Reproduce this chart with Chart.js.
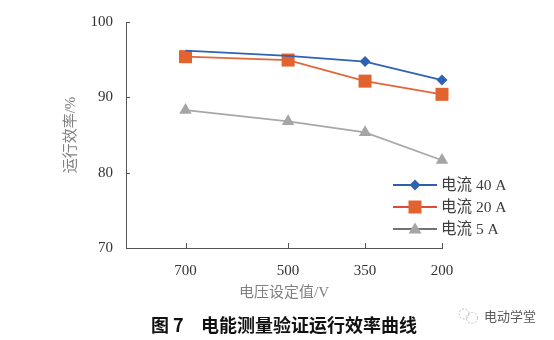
<!DOCTYPE html>
<html><head><meta charset="utf-8">
<script src="https://cdn.jsdelivr.net/npm/chart.js@4.4.1/dist/chart.umd.min.js"></script>
<style>html,body{margin:0;padding:0;background:#fff}#wrap{width:554px;height:340px;position:relative}</style>
</head><body><div id="wrap"><canvas id="c" width="554" height="340"></canvas></div>
<script>
// ---- data ----
const voltages = [700, 500, 350, 200];
const xTickValues = [700, 500, 350, 200];
const yTickValues = [70, 80, 90, 100];
const eff40 = [96.2, 95.5, 94.75, 92.3];
const eff20 = [95.4, 94.95, 92.15, 90.4];
const eff5 = [88.3, 86.8, 85.35, 81.65];
const seriesNames = ['电流 40 A', '电流 20 A', '电流 5 A'];
const xTitle = '电压设定值/V';
const yTitle = '运行效率/%';
const captionFig = '图 7';
const captionText = '电能测量验证运行效率曲线';
const watermark = '电动学堂';

const numFont = '"Liberation Serif", "Noto Sans CJK SC", serif';
const cjkFont = '"Liberation Serif", "Noto Sans CJK SC", sans-serif';

function pts(vals) { return voltages.map((v, i) => ({x: v, y: vals[i]})); }

const styles = [
  {line: '#2f62b2', fill: '#2f62b2', legLine: '#2f5fae', shape: 'diamond'},
  {line: '#e3653a', fill: '#e2632f', legLine: '#e04a3a', shape: 'square'},
  {line: '#a8a8a8', fill: '#a5a5a5', legLine: '#737373', shape: 'triangle'}
];

function drawMarker(ctx, shape, x, y, color) {
  ctx.save();
  ctx.fillStyle = color;
  ctx.beginPath();
  if (shape === 'diamond') {
    const r = 5.5;
    ctx.moveTo(x, y - r); ctx.lineTo(x + r, y); ctx.lineTo(x, y + r); ctx.lineTo(x - r, y);
  } else if (shape === 'square') {
    ctx.rect(x - 6.5, y - 6.5, 13, 13);
  } else {
    ctx.moveTo(x, y - 6.5); ctx.lineTo(x + 6.5, y + 4.5); ctx.lineTo(x - 6.5, y + 4.5);
  }
  ctx.closePath();
  ctx.fill();
  ctx.restore();
}

const extras = {
  id: 'extras',
  afterDraw(chart) {
    const ctx = chart.ctx;
    const xs = chart.scales.x, ys = chart.scales.y;
    const ca = chart.chartArea;
    ctx.save();
    // inward tick marks
    ctx.strokeStyle = '#555';
    ctx.lineWidth = 1;
    yTickValues.forEach(v => {
      const py = Math.round(ys.getPixelForValue(v)) + 0.5;
      ctx.beginPath(); ctx.moveTo(ca.left, py); ctx.lineTo(ca.left + 4, py); ctx.stroke();
    });
    xTickValues.forEach(v => {
      const px = Math.round(xs.getPixelForValue(v)) + 0.5;
      ctx.beginPath(); ctx.moveTo(px, ca.bottom); ctx.lineTo(px, ca.bottom - 5); ctx.stroke();
    });
    // legend
    const lx0 = 393, lx1 = 437, rows = [185, 207, 229];
    ctx.font = '15.5px ' + cjkFont;
    ctx.textBaseline = 'middle';
    ctx.textAlign = 'left';
    seriesNames.forEach((name, i) => {
      const y = rows[i];
      ctx.strokeStyle = styles[i].legLine;
      ctx.lineWidth = 2;
      ctx.beginPath(); ctx.moveTo(lx0, y); ctx.lineTo(lx1, y); ctx.stroke();
      drawMarker(ctx, styles[i].shape, (lx0 + lx1) / 2, y, styles[i].fill);
      ctx.fillStyle = '#3d3d3d';
      ctx.fillText(name, 441, y + 1);
    });
    // caption
    ctx.fillStyle = '#111';
    ctx.font = 'bold 18px "Noto Sans CJK SC", sans-serif';
    ctx.fillText(captionFig, 151, 325);
    ctx.fillText(captionText, 201, 325);
    // watermark
    ctx.strokeStyle = '#bdbdbd';
    ctx.lineWidth = 1;
    ctx.setLineDash([2, 1.5]);
    ctx.beginPath(); ctx.arc(464, 314, 5, 0, Math.PI * 2); ctx.stroke();
    ctx.beginPath(); ctx.arc(472, 318, 5.5, 0, Math.PI * 2); ctx.stroke();
    ctx.setLineDash([]);
    ctx.fillStyle = '#5a5a5a';
    ctx.font = '13px "Noto Sans CJK SC", sans-serif';
    ctx.fillText(watermark, 484, 316);
    ctx.restore();
  }
};

const datasets = [eff40, eff20, eff5].map((vals, i) => ({
  label: seriesNames[i],
  data: pts(vals),
  borderColor: styles[i].line,
  backgroundColor: styles[i].fill,
  borderWidth: 1.8,
  pointStyle: ['rectRot', 'rect', 'triangle'][i],
  pointRadius: i === 0 ? [0, 0, 5.5, 5.5] : (i === 1 ? 9.2 : 7.2),
  pointBorderWidth: 0,
  pointHoverRadius: 0,
  tension: 0,
  clip: false
}));

new Chart(document.getElementById('c'), {
  type: 'line',
  data: {datasets},
  plugins: [extras],
  options: {
    responsive: false,
    animation: false,
    layout: {padding: {left: 0, right: 112, top: 20, bottom: 0}},
    plugins: {legend: {display: false}, tooltip: {enabled: false}},
    scales: {
      x: {
        type: 'linear', reverse: true, min: 200, max: 816,
        afterBuildTicks: s => { s.ticks = xTickValues.map(v => ({value: v})); },
        afterFit: s => { s.height = 92; },
        grid: {display: false, drawTicks: false},
        border: {display: true, color: '#555', width: 1},
        ticks: {font: {size: 15, family: numFont}, color: '#333', padding: 14, maxRotation: 0, autoSkip: false},
        title: {display: true, text: xTitle, color: '#808080', font: {size: 15, family: cjkFont}, padding: {top: 0, bottom: 38}}
      },
      y: {
        type: 'linear', min: 70, max: 100,
        afterBuildTicks: s => { s.ticks = yTickValues.map(v => ({value: v})); },
        afterFit: s => { s.width = 126; },
        grid: {display: false, drawTicks: false},
        border: {display: true, color: '#555', width: 1},
        ticks: {font: {size: 15, family: numFont}, color: '#333', padding: 13},
        title: {display: true, text: yTitle, color: '#808080', font: {size: 15, family: cjkFont}, padding: {top: 62, bottom: 0}}
      }
    }
  }
});
</script></body></html>
